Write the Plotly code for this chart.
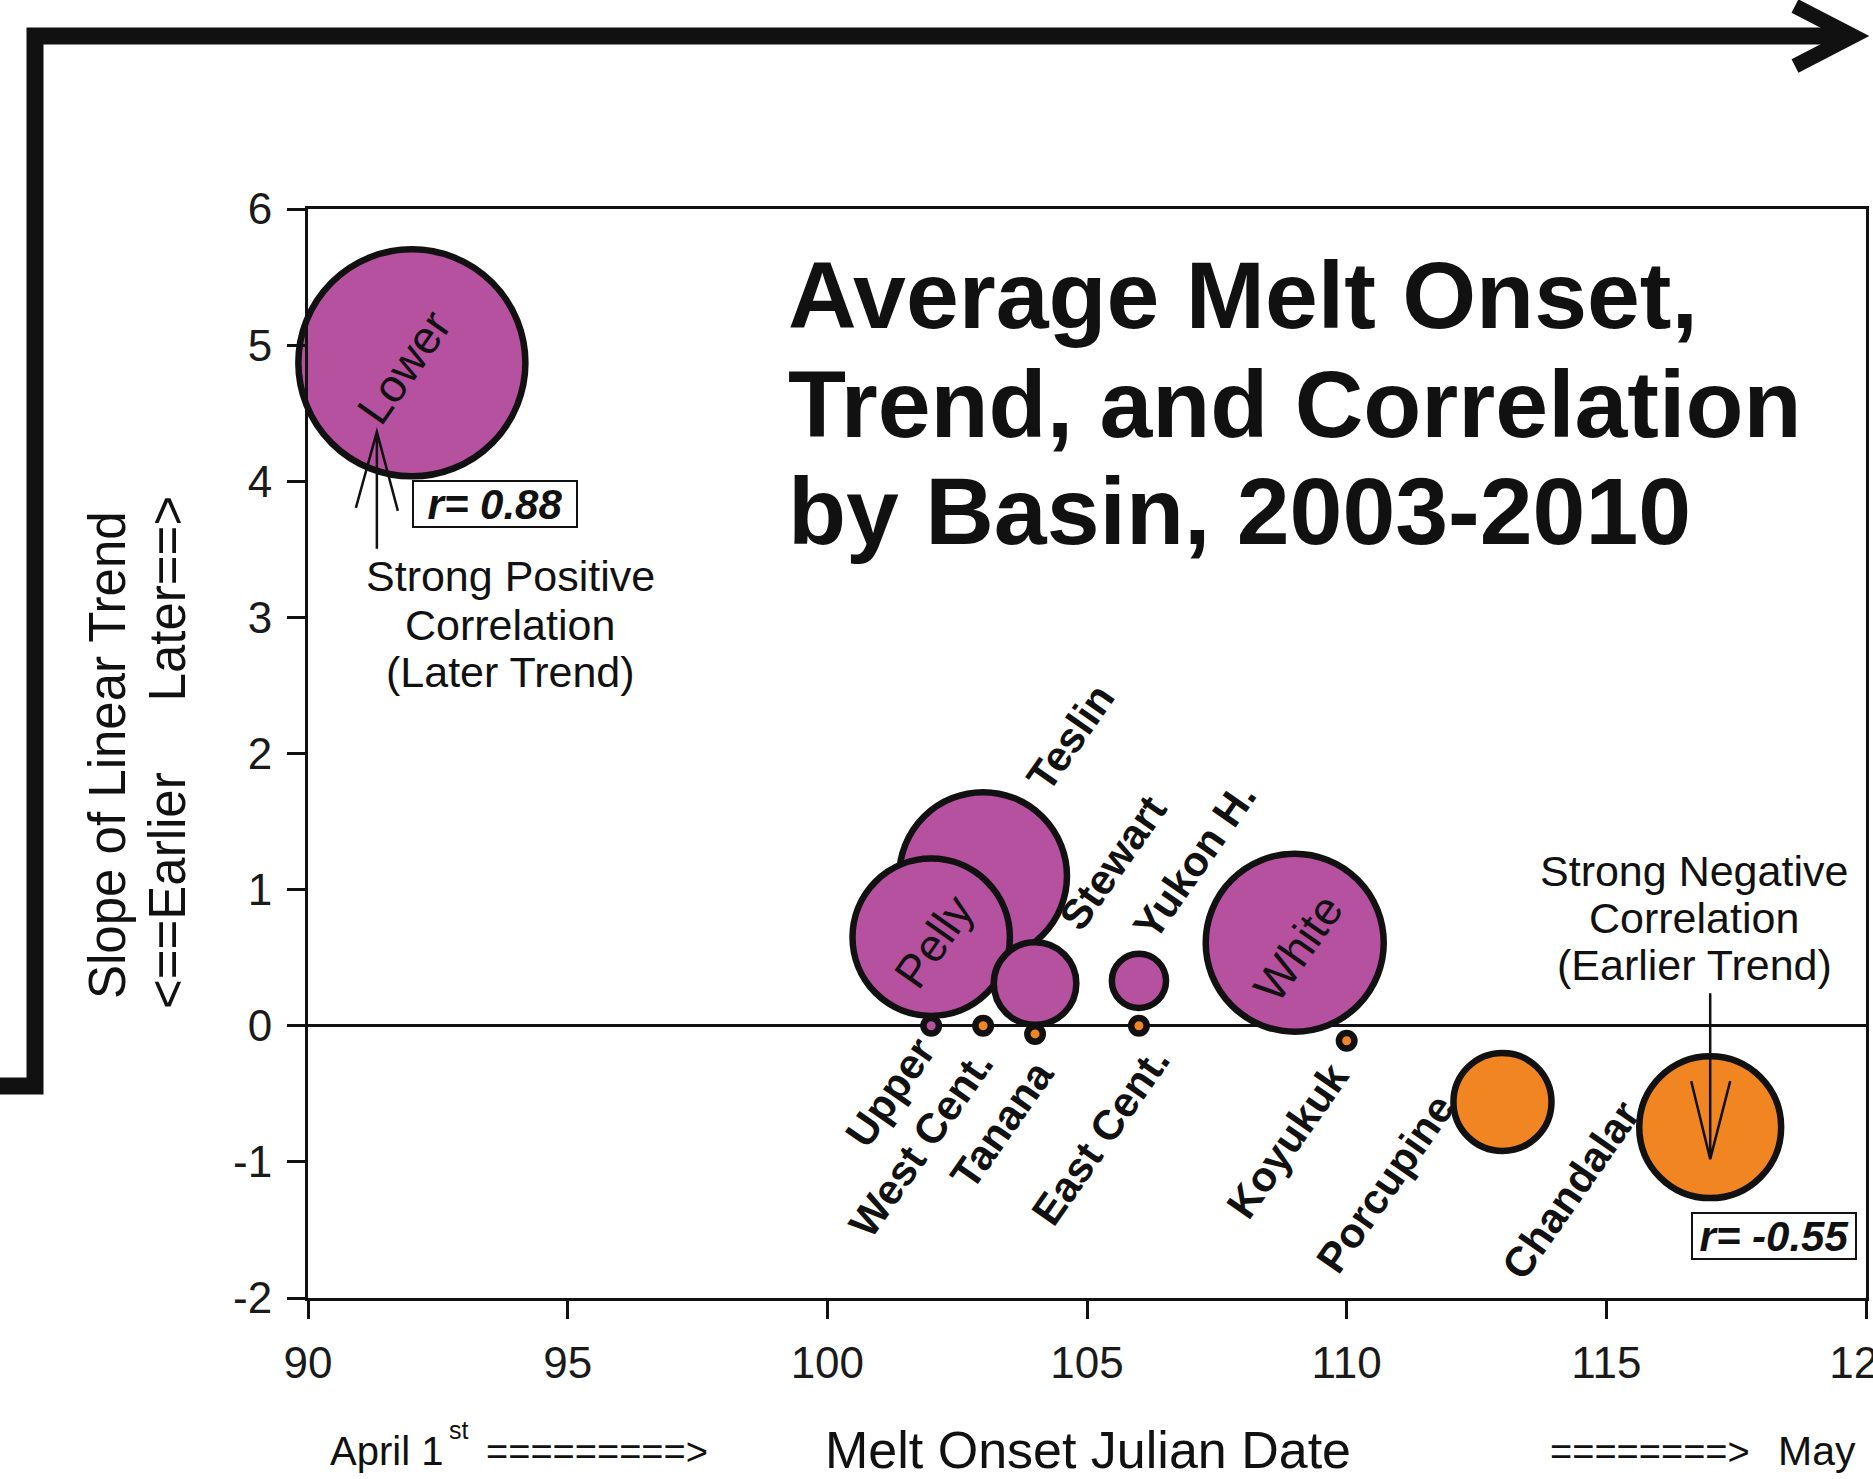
import plotly.graph_objects as go

# ---------------- data ----------------
basins = ["Lower", "Teslin", "Pelly", "Stewart", "Yukon H.", "White", "Porcupine",
          "Chandalar", "Upper", "West Cent.", "Tanana", "East Cent.", "Koyukuk"]
melt_onset = [92, 103, 102, 104, 106, 109, 113, 117, 102, 103, 104, 106, 110]
trend_slope = [4.87, 1.10, 0.65, 0.31, 0.33, 0.61, -0.56, -0.745, 0.0, 0.0, -0.06, 0.0, -0.11]
correlation = [0.88, 0.65, 0.61, 0.32, 0.21, 0.69, -0.38, -0.55, 0.06, -0.06, -0.06, -0.06, -0.06]

x_ticks = [90, 95, 100, 105, 110, 115, 120]
y_ticks = [-2, -1, 0, 1, 2, 3, 4, 5, 6]
y_tick_text = ["-2", "-1", "0", "1", "2", "3", "4", "5", "6"]

# ---------------- styles / layout constants ----------------
W, H = 1873, 1479
PLOT_L, PLOT_R, PLOT_T, PLOT_B = 308, 1866, 209, 1298
PLOT_W, PLOT_H = PLOT_R - PLOT_L, PLOT_B - PLOT_T
FONT = "Liberation Sans, Arial, Helvetica, sans-serif"
TXT = "#111111"
PURPLE = "#B5519F"
ORANGE = "#F18522"

# label placement: pixel offset from the point (dx right, dy up), bold?, size
label_style = {
    "Lower": (-8, -4, False, 46),
    "Pelly": (3, -4, False, 46),
    "White": (3, -5, False, 46),
    "Teslin": (87, 139, True, 42),
    "Stewart": (78, 121, True, 42),
    "Yukon H.": (56, 120, True, 42),
    "Upper": (-41, -67, True, 42),
    "West Cent.": (-62, -118, True, 42),
    "Tanana": (-33, -91, True, 42),
    "East Cent.": (-38, -110, True, 42),
    "Koyukuk": (-59, -100, True, 42),
    "Porcupine": (-117, -82, True, 42),
    "Chandalar": (-140, -63, True, 42),
}


def px2paper(px, py):
    return (px - PLOT_L) / PLOT_W, (PLOT_B - py) / PLOT_H


colors = [PURPLE if r > 0 else ORANGE for r in correlation]
sizes = [abs(r) for r in correlation]

fig = go.Figure()
fig.add_trace(go.Scatter(
    x=melt_onset, y=trend_slope, mode="markers",
    marker=dict(size=sizes, sizemode="diameter", sizeref=1 / 258,
                color=colors, opacity=1, line=dict(color="#111111", width=6.5)),
    text=basins, hoverinfo="text", showlegend=False, cliponaxis=False,
))

annotations = []
# basin labels
for name, xv, yv in zip(basins, melt_onset, trend_slope):
    dx, dy, bold, fs = label_style[name]
    annotations.append(dict(
        x=xv, y=yv, xref="x", yref="y", showarrow=False,
        text=f"<b>{name}</b>" if bold else name, textangle=-55,
        xshift=dx, yshift=dy, xanchor="center", yanchor="middle",
        font=dict(family=FONT, size=fs, color=TXT),
    ))

# correlation boxes for Lower and Chandalar
for name, dx, dy in [("Lower", 83, -141), ("Chandalar", 64, -109)]:
    i = basins.index(name)
    annotations.append(dict(
        x=melt_onset[i], y=trend_slope[i], xref="x", yref="y", showarrow=False,
        text=f"<b><i>r= {correlation[i]:.2f}</i></b>", xshift=dx, yshift=dy,
        xanchor="center", yanchor="middle", bgcolor="white",
        width=160, height=42, align="center", valign="middle",
        bordercolor="#111111", borderwidth=2, borderpad=1,
        font=dict(family=FONT, size=42, color=TXT),
    ))


def add_text(text, px, py, size, xanchor="center", angle=0, bold=False):
    xp, yp = px2paper(px, py)
    annotations.append(dict(
        x=xp, y=yp, xref="paper", yref="paper", showarrow=False,
        text=f"<b>{text}</b>" if bold else text, textangle=angle,
        xanchor=xanchor, yanchor="middle",
        font=dict(family=FONT, size=size, color=TXT),
    ))


# title
for line, base in [("Average Melt Onset,", 328), ("Trend, and Correlation", 437),
                   ("by Basin, 2003-2010", 544)]:
    add_text(line, 786, base - 33, 95, xanchor="left", bold=True)

# correlation notes
for line, yc in [("Strong Positive", 576), ("Correlation", 625), ("(Later Trend)", 672)]:
    add_text(line, 510, yc, 43)
for line, yc in [("Strong Negative", 871), ("Correlation", 918), ("(Earlier Trend)", 965)]:
    add_text(line, 1694, yc, 43)

# y axis title (two lines)
add_text("Slope of Linear Trend", 107, 755, 51, angle=-90)
add_text("<==Earlier" + "\u00a0" * 5 + "Later==>", 167, 753, 51, angle=-90)

# x axis title row
add_text("April 1", 328, 1451, 40, xanchor="left")
add_text("st", 447, 1430, 25, xanchor="left")
add_text("=========>", 484, 1452, 38, xanchor="left")
add_text("Melt Onset Julian Date", 1088, 1450, 52)
add_text("========>", 1752, 1452, 38, xanchor="right")
add_text("May", 1858, 1451, 41, xanchor="right")

shapes = []


# decorative frame with arrow (page pixels, relative to plot top-left corner)
def frame_path(points):
    return "M " + " L ".join(f"{x - PLOT_L},{PLOT_T - y}" for x, y in points)


shapes.append(dict(type="path", xref="paper", yref="paper", xsizemode="pixel",
                   ysizemode="pixel", xanchor=0, yanchor=1,
                   path=frame_path([(-10, 1086), (35, 1086), (35, 36), (1850, 36)]),
                   line=dict(color="#111111", width=17)))
shapes.append(dict(type="path", xref="paper", yref="paper", xsizemode="pixel",
                   ysizemode="pixel", xanchor=0, yanchor=1,
                   path=frame_path([(1795, 6), (1853, 36), (1795, 66)]),
                   line=dict(color="#111111", width=15)))

# thin arrows pointing at Lower and Chandalar (pixel offsets from the points)
iL = basins.index("Lower")
shapes.append(dict(type="path", xref="x", yref="y", xsizemode="pixel", ysizemode="pixel",
                   xanchor=melt_onset[iL], yanchor=trend_slope[iL],
                   path="M -35,-186 L -35,-69 M -56,-145 L -35,-69 L -14,-148",
                   line=dict(color="#111111", width=2.5)))
iC = basins.index("Chandalar")
shapes.append(dict(type="path", xref="x", yref="y", xsizemode="pixel", ysizemode="pixel",
                   xanchor=melt_onset[iC], yanchor=trend_slope[iC],
                   path="M 0,134 L 0,-32 M -19,46 L 0,-32 L 20,46",
                   line=dict(color="#111111", width=2.5)))

axis_common = dict(showline=True, linecolor="#111111", linewidth=3, mirror=True,
                   showgrid=False, ticks="outside", ticklen=18, tickwidth=3,
                   tickcolor="#111111", automargin=False,
                   tickfont=dict(family=FONT, size=44, color="#1a1a1a"))

fig.update_layout(
    template="none",
    width=W, height=H,
    margin=dict(l=PLOT_L, r=W - PLOT_R, t=PLOT_T, b=H - PLOT_B, pad=0),
    paper_bgcolor="white", plot_bgcolor="white",
    xaxis=dict(range=[90, 120], tickvals=x_ticks, ticktext=[str(v) for v in x_ticks],
               zeroline=False, ticklabelstandoff=6, ticklabeloverflow="allow",
               **axis_common),
    yaxis=dict(range=[-2, 6], tickvals=y_ticks, ticktext=y_tick_text,
               zeroline=True, zerolinecolor="#111111", zerolinewidth=2.5,
               ticklabelstandoff=6, ticklabeloverflow="allow", **axis_common),
    annotations=annotations, shapes=shapes, showlegend=False,
)

fig.write_html("out.html", config={"displayModeBar": False},
               post_script="document.body.style.margin='0';document.body.style.overflow='hidden';")
